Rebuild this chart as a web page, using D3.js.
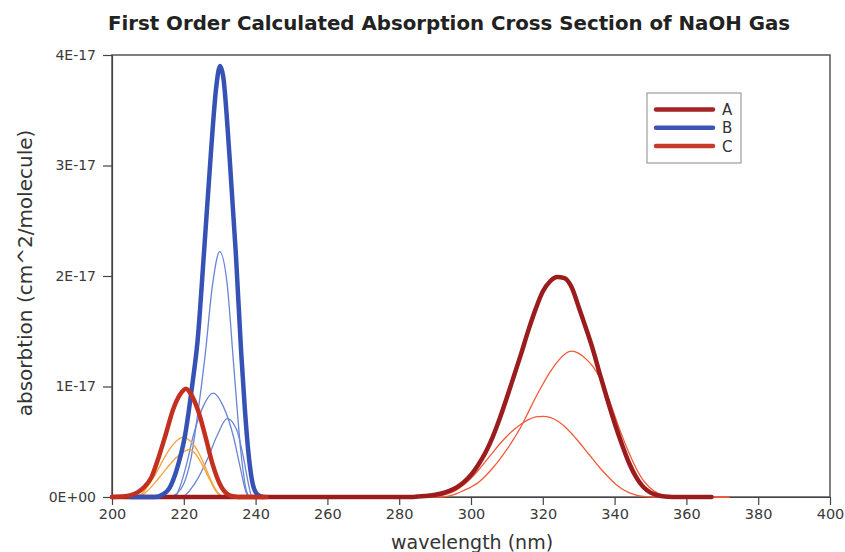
<!DOCTYPE html>
<html>
<head>
<meta charset="utf-8">
<script src="https://cdn.jsdelivr.net/npm/d3@7"></script>
<style>
    body { margin: 0; background: #fff; }
    #chart { width: 845px; height: 552px; }
    text { font-family: "DejaVu Sans", sans-serif; fill: #333; }
    .axis path, .axis line { stroke: #444; stroke-width: 1.2; }
    .axis text { fill: #3a3a3a; }
</style>
</head>
<body>
<svg id="chart" width="845" height="552"></svg>
<script>
    // values are in units of 1E-17 cm^2/molecule
    const xTicks = [200, 220, 240, 260, 280, 300, 320, 340, 360, 380, 400];
    const yTicks = [0, 1, 2, 3, 4];
    const yTickLabels = ["0E+00", "1E-17", "2E-17", "3E-17", "4E-17"];
    const legendNames = ["A", "B", "C"];

    // thick totals
    const aWave = [200, 284, 286, 288, 290, 292, 294, 296, 298, 300, 302, 304, 306, 308, 310, 312, 314, 316, 318, 320, 322, 324, 326, 328, 330, 332, 334, 336, 338, 340, 342, 344, 346, 348, 350, 352, 354, 358, 367];
    const aAbs = [0, 0, 0.007, 0.012, 0.02, 0.034, 0.056, 0.087, 0.135, 0.2, 0.29, 0.4, 0.54, 0.71, 0.9, 1.1, 1.3, 1.51, 1.7, 1.86, 1.95, 1.99, 1.98, 1.9, 1.72, 1.53, 1.33, 1.1, 0.88, 0.67, 0.48, 0.31, 0.18, 0.09, 0.04, 0.015, 0.005, 0, 0];

    const bWave = [205, 212, 214, 216, 217, 218.5, 220.3, 222.5, 223.8, 225.6, 227.5, 229, 230.1, 231, 232.7, 234.5, 236, 237, 238, 239, 240.3, 242];
    const bAbs = [0, 0, 0.02, 0.08, 0.15, 0.3, 0.55, 1.05, 1.4, 2.2, 3.09, 3.7, 3.9, 3.8, 3.1, 2.2, 1.3, 0.8, 0.4, 0.15, 0.03, 0];

    const cWave = [200, 203, 205, 207, 209, 211, 213, 215, 217, 219, 220.6, 222, 224, 226, 228, 230, 232, 234, 236, 243];
    const cAbs = [0, 0.005, 0.015, 0.04, 0.09, 0.18, 0.36, 0.57, 0.79, 0.93, 0.98, 0.93, 0.78, 0.55, 0.30, 0.12, 0.03, 0.005, 0, 0];

    // thin components of A
    const a1Wave = [200, 288, 290, 292, 294, 296, 298, 300, 302, 304, 306, 308, 310, 312, 314, 316, 318, 320, 322, 324, 326, 328, 330, 332, 334, 336, 338, 340, 342, 344, 346, 348, 351, 372];
    const a1Abs = [0, 0, 0.005, 0.015, 0.035, 0.065, 0.11, 0.17, 0.24, 0.32, 0.40, 0.48, 0.55, 0.61, 0.66, 0.70, 0.725, 0.73, 0.72, 0.69, 0.64, 0.575, 0.50, 0.42, 0.34, 0.26, 0.19, 0.125, 0.075, 0.04, 0.018, 0.006, 0, 0];
    const a2Wave = [200, 292, 294, 296, 298, 300, 302, 304, 306, 308, 310, 312, 314, 316, 318, 320, 322, 324, 326, 328, 330, 332, 334, 336, 338, 340, 342, 344, 346, 348, 350, 352, 354, 357, 362, 372];
    const a2Abs = [0, 0, 0.01, 0.03, 0.06, 0.09, 0.13, 0.19, 0.26, 0.34, 0.43, 0.53, 0.64, 0.77, 0.9, 1.02, 1.13, 1.22, 1.29, 1.32, 1.30, 1.25, 1.18, 1.07, 0.92, 0.74, 0.56, 0.4, 0.26, 0.15, 0.08, 0.035, 0.012, 0.003, 0, 0];

    // thin components of B
    const b1Wave = [205, 216, 218, 220, 222, 224, 226, 228, 230, 232, 234, 236, 237.5, 238.5, 242];
    const b1Abs = [0, 0, 0.03, 0.12, 0.35, 0.78, 1.3, 1.92, 2.22, 1.95, 1.15, 0.38, 0.05, 0, 0];
    const b2Wave = [205, 217.5, 218.9, 220.8, 222.6, 225.4, 228.2, 231, 233.8, 235.7, 237.5, 238.5, 242];
    const b2Abs = [0, 0, 0.09, 0.30, 0.55, 0.82, 0.94, 0.82, 0.55, 0.27, 0.03, 0, 0];
    const b3Wave = [205, 219.5, 220.8, 223.6, 226.4, 229.2, 232.1, 234.7, 236.6, 238, 238.9, 242];
    const b3Abs = [0, 0, 0.03, 0.15, 0.33, 0.55, 0.71, 0.61, 0.36, 0.12, 0.01, 0];

    // thin components of C
    const c1Wave = [205, 208, 210, 212, 214, 216, 218, 219.8, 222, 224, 226, 228, 229.5, 231];
    const c1Abs = [0, 0.02, 0.10, 0.20, 0.32, 0.43, 0.51, 0.54, 0.50, 0.41, 0.27, 0.12, 0.04, 0];
    const c2Wave = [205, 208, 210, 212, 214, 216, 218, 220, 221.7, 223, 225, 227, 229, 230.5];
    const c2Abs = [0, 0.01, 0.06, 0.13, 0.21, 0.29, 0.36, 0.41, 0.43, 0.40, 0.30, 0.17, 0.05, 0];

    const margin = { left: 112, top: 55, right: 15, bottom: 55 };
    const width = 830 - margin.left;
    const height = 497 - margin.top;

    const svg = d3.select("#chart");
    const g = svg.append("g").attr("transform", `translate(${margin.left},${margin.top})`);

    const x = d3.scaleLinear().domain([200, 400]).range([0, width]);
    const y = d3.scaleLinear().domain([0, 4]).range([height, 0]);

    const line = d3.line()
        .x(d => x(d[0]))
        .y(d => y(d[1]))
        .curve(d3.curveMonotoneX);

    const zip = (w, v) => w.map((d, i) => [d, v[i]]);

    const thin = [
        { data: zip(a1Wave, a1Abs), color: "#f25a3a" },
        { data: zip(a2Wave, a2Abs), color: "#f25a3a" },
        { data: zip(b1Wave, b1Abs), color: "#6a86d4" },
        { data: zip(b2Wave, b2Abs), color: "#6a86d4" },
        { data: zip(b3Wave, b3Abs), color: "#6a86d4" },
        { data: zip(c1Wave, c1Abs), color: "#f6a23a" },
        { data: zip(c2Wave, c2Abs), color: "#f6a23a" }
    ];
    const thick = [
        { data: zip(aWave, aAbs), color: "#9b1c1c" },
        { data: zip(bWave, bAbs), color: "#3652b5" },
        { data: zip(cWave, cAbs), color: "#c4301f" }
    ];

    // frame
    g.append("rect")
        .attr("width", width)
        .attr("height", height)
        .attr("fill", "none")
        .attr("stroke", "#555")
        .attr("stroke-width", 1.5);

    g.append("g").attr("class", "axis")
        .attr("transform", `translate(0,${height})`)
        .call(d3.axisBottom(x).tickValues(xTicks).tickSize(8).tickSizeOuter(0).tickPadding(4))
        .selectAll("text").style("font-size", "14.5px");

    g.append("g").attr("class", "axis")
        .call(d3.axisLeft(y).tickValues(yTicks).tickFormat((d, i) => yTickLabels[i]).tickSize(9).tickSizeOuter(0).tickPadding(7))
        .selectAll("text").style("font-size", "14px");

    g.selectAll("path.thin").data(thin).enter().append("path")
        .attr("class", "thin")
        .attr("d", d => line(d.data))
        .attr("fill", "none")
        .attr("stroke", d => d.color)
        .attr("stroke-width", 1.3);

    g.selectAll("path.thick").data(thick).enter().append("path")
        .attr("class", "thick")
        .attr("d", d => line(d.data))
        .attr("fill", "none")
        .attr("stroke", d => d.color)
        .attr("stroke-width", 4.5)
        .attr("stroke-linejoin", "round")
        .attr("stroke-linecap", "round");

    // title and axis labels
    svg.append("text")
        .attr("x", 449).attr("y", 30)
        .attr("text-anchor", "middle")
        .style("font-size", "19.8px").style("font-weight", "bold").style("fill", "#222")
        .text("First Order Calculated Absorption Cross Section of NaOH Gas");

    svg.append("text")
        .attr("x", 472).attr("y", 549)
        .attr("text-anchor", "middle")
        .style("font-size", "19px")
        .text("wavelength (nm)");

    svg.append("text")
        .attr("transform", "translate(32,273) rotate(-90)")
        .attr("text-anchor", "middle")
        .style("font-size", "20px")
        .text("absorbtion (cm^2/molecule)");

    // legend
    const legendColors = ["#a32525", "#3a55b5", "#c83a2c"];
    const legend = svg.append("g").attr("transform", "translate(647,93)");
    legend.append("rect")
        .attr("width", 94).attr("height", 70)
        .attr("fill", "#fff").attr("stroke", "#888").attr("stroke-width", 1);
    const items = legend.selectAll("g.item").data(legendNames).enter().append("g")
        .attr("class", "item")
        .attr("transform", (d, i) => `translate(0,${16.5 + i * 18.3})`);
    items.append("line")
        .attr("x1", 9).attr("x2", 66)
        .attr("stroke", (d, i) => legendColors[i])
        .attr("stroke-width", 4.5)
        .attr("stroke-linecap", "round");
    items.append("text")
        .attr("x", 75).attr("y", 5.5)
        .style("font-size", "15px")
        .text(d => d);
</script>
</body>
</html>
